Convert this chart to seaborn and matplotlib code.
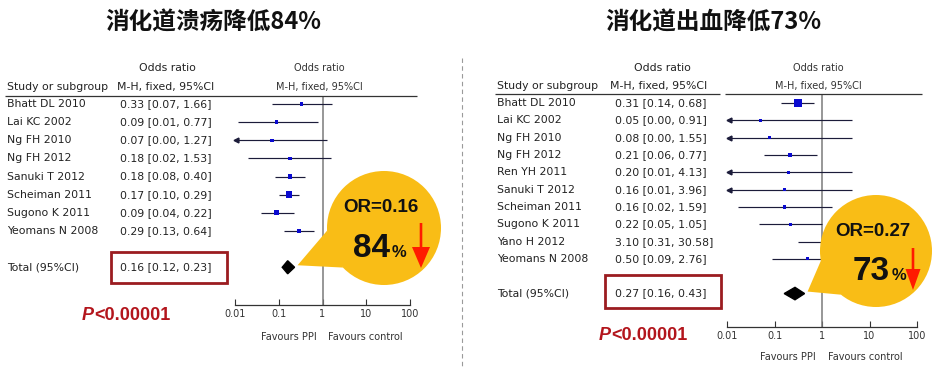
import numpy as np
import matplotlib
matplotlib.use("Agg")
import matplotlib.pyplot as plt
import matplotlib.transforms as mtrans
from matplotlib.patches import Circle, Polygon, Rectangle, FancyArrow
import seaborn as sns

# --- left panel: peptic ulcer ---
ulcer_studies = ["Bhatt DL 2010", "Lai KC 2002", "Ng FH 2010", "Ng FH 2012",
                 "Sanuki T 2012", "Scheiman 2011", "Sugono K 2011", "Yeomans N 2008"]
ulcer_or = [0.33, 0.09, 0.07, 0.18, 0.18, 0.17, 0.09, 0.29]
ulcer_lo = [0.07, 0.0115, 0.004, 0.02, 0.08, 0.10, 0.04, 0.13]
ulcer_hi = [1.66, 0.77, 1.27, 1.53, 0.40, 0.29, 0.22, 0.64]
ulcer_weight = [6.5, 5.5, 5.0, 6.0, 11.0, 33.0, 19.5, 13.5]
ulcer_total = [0.16, 0.12, 0.23]  # OR, lo, hi

# --- right panel: GI bleeding ---
bleed_studies = ["Bhatt DL 2010", "Lai KC 2002", "Ng FH 2010", "Ng FH 2012", "Ren YH 2011",
                 "Sanuki T 2012", "Scheiman 2011", "Sugono K 2011", "Yano H 2012", "Yeomans N 2008"]
bleed_or = [0.31, 0.05, 0.08, 0.21, 0.20, 0.16, 0.16, 0.22, 3.10, 0.50]
bleed_lo = [0.14, 0.00, 0.00, 0.06, 0.01, 0.01, 0.02, 0.05, 0.31, 0.09]
bleed_hi = [0.68, 0.91, 1.55, 0.77, 4.13, 3.96, 1.59, 1.05, 30.58, 2.76]
# whiskers as they are drawn in the figure (some differ from the table)
bleed_draw_lo = [0.14, 0.004, 0.004, 0.06, 0.005, 0.005, 0.017, 0.048, 0.32, 0.087]
bleed_draw_hi = [0.68, 4.2, 4.2, 0.80, 4.2, 4.2, 1.6, 1.0, 30.58, 2.76]
bleed_weight = [45.0, 5.5, 4.5, 13.0, 3.5, 4.0, 5.0, 4.5, 4.0, 4.5]
bleed_total = [0.27, 0.16, 0.43]

ticks = [0.01, 0.1, 1, 10, 100]
tick_labels = ["0.01", "0.1", "1", "10", "100"]

sns.set_style("white")
plt.rcParams["font.family"] = ["DejaVu Sans"]

W, H = 940, 369
fig = plt.figure(figsize=(9.4, 3.69), dpi=100)

def px_axes(x0, y0, x1, y1, **kw):
    return fig.add_axes([x0 / W, 1 - y1 / H, (x1 - x0) / W, (y1 - y0) / H], **kw)

ax_l = px_axes(235, 96, 410, 305, zorder=1)
ax_r = px_axes(727, 94, 917, 327, zorder=1)
ov = fig.add_axes([0, 0, 1, 1], zorder=5)
ov.set_xlim(0, W)
ov.set_ylim(H, 0)
ov.axis("off")

ci_col = "#1c1c3a"
sq_col = "#0a0ad0"
txt_col = "#222222"
box_col = "#9b1c20"
p_col = "#b3151c"
bubble = "#f9bd16"
small = 7  # narrow labels of the plot area


def forest(ax, ors, lo, hi, weight, total, ylim, fav_dy):
    rows = np.arange(len(ors))
    trow = len(ors) + 1
    for r, a, b in zip(rows, lo, hi):
        ax.hlines(r, max(a, 0.01), min(b, 100), color=ci_col, lw=0.85, zorder=2)
        if a < 0.01:
            ax.plot(0.0108, r, marker="<", ms=3.5, color=ci_col, clip_on=False, zorder=2)
    sns.scatterplot(x=ors, y=rows, size=weight, sizes=(4, 30), size_norm=(3, 45),
                    marker="s", color=sq_col, linewidth=0, legend=False, ax=ax, zorder=3)
    o, a, b = total
    ax.fill([a, o, b, o], [trow, trow - 0.36, trow, trow + 0.36], color="black", zorder=3)
    ax.axvline(1, color="#7a7a7a", lw=1.1, zorder=1)
    ax.set_xscale("log")
    ax.set_xlim(0.01, 100)
    ax.set_ylim(*ylim)
    ax.set_xticks(ticks, labels=tick_labels)
    ax.minorticks_off()
    ax.tick_params(axis="x", direction="in", length=4, width=0.8, pad=3,
                   labelsize=small, colors="#333333", bottom=True)
    ax.set_yticks([])
    ax.set_xlabel("")
    ax.set_ylabel("")
    for s in ["top", "left", "right"]:
        ax.spines[s].set_visible(False)
    ax.spines["bottom"].set_color("#333333")
    ax.spines["bottom"].set_linewidth(0.9)
    ax.patch.set_alpha(0)
    ax.annotate("Favours PPI", xy=(1, 0), xycoords=("data", "axes fraction"),
                xytext=(-6, -fav_dy), textcoords="offset pixels", ha="right", va="center",
                fontsize=small, color="#333333")
    ax.annotate("Favours control", xy=(1, 0), xycoords=("data", "axes fraction"),
                xytext=(6, -fav_dy), textcoords="offset pixels", ha="left", va="center",
                fontsize=small, color="#333333")


def table(ax, x_name, x_ci, studies, ors, lo, hi, total):
    tr = mtrans.blended_transform_factory(ov.transData, ax.transData)
    kw = dict(transform=tr, va="center", fontsize=7.8, color=txt_col)
    for i, (s, o, a, b) in enumerate(zip(studies, ors, lo, hi)):
        ov.text(x_name, i, s, **kw)
        ov.text(x_ci, i, f"{o:.2f} [{a:.2f}, {b:.2f}]", **kw)
    n = len(studies) + 1
    ov.text(x_name, n, "Total (95%CI)", **kw)
    ov.text(x_ci, n, f"{total[0]:.2f} [{total[1]:.2f}, {total[2]:.2f}]", **kw)


def callout(ax, total, trow, cx, cy, r, or_txt, num, num_x, base_y, arrow_x, arrow_y0, arrow_y1, head_w):
    tip = ov.transData.inverted().transform(ax.transData.transform((total[2], trow))) + np.array([3, -2])
    ang = np.arctan2(tip[1] - cy, tip[0] - cx)
    b1 = (cx + r * np.cos(ang - 0.36), cy + r * np.sin(ang - 0.36))
    b2 = (cx + r * np.cos(ang + 0.36), cy + r * np.sin(ang + 0.36))
    ov.add_patch(Polygon([b1, tip, b2], closed=True, color=bubble, lw=0, zorder=6))
    ov.add_patch(Circle((cx, cy), r, color=bubble, lw=0, zorder=6))
    ov.text(cx - 3, cy - 20, or_txt, ha="center", va="center", fontsize=13.5,
            fontweight="bold", family="Liberation Sans", color="#111111", zorder=8)
    ov.text(num_x, base_y, num, ha="right", va="baseline", fontsize=24,
            fontweight="bold", family="Liberation Sans", color="#111111", zorder=8)
    ov.text(num_x + 2, base_y, "%", ha="left", va="baseline", fontsize=12,
            fontweight="bold", family="Liberation Sans", color="#111111", zorder=8)
    ov.add_patch(FancyArrow(arrow_x, arrow_y0, 0, arrow_y1 - arrow_y0, width=2.6,
                            head_width=head_w, head_length=21, length_includes_head=True,
                            color="#ff1a00", lw=0, zorder=8))


forest(ax_l, ulcer_or, ulcer_lo, ulcer_hi, ulcer_weight, ulcer_total, (11.08, -0.44), 32)
forest(ax_r, bleed_or, bleed_draw_lo, bleed_draw_hi, bleed_weight, bleed_total, (12.93, -0.52), 30)

table(ax_l, 7, 120, ulcer_studies, ulcer_or, ulcer_lo, ulcer_hi, ulcer_total)
table(ax_r, 497, 615, bleed_studies, bleed_or, bleed_lo, bleed_hi, bleed_total)

# headers
hk = dict(fontsize=7.8, color=txt_col, va="center")
ck = dict(fontsize=small, color="#333333", va="center", ha="center")
ov.text(167, 68, "Odds ratio", ha="center", **hk)
ov.text(7, 87, "Study or subgroup", ha="left", **hk)
ov.text(117, 87, "M-H, fixed, 95%CI", ha="left", **hk)
ov.text(319, 68, "Odds ratio", **ck)
ov.text(319, 87, "M-H, fixed, 95%CI", **ck)
ov.hlines(96, 5, 417, color="#333333", lw=0.9)

ov.text(662, 68, "Odds ratio", ha="center", **hk)
ov.text(497, 86, "Study or subgroup", ha="left", **hk)
ov.text(610, 86, "M-H, fixed, 95%CI", ha="left", **hk)
ov.text(818, 68, "Odds ratio", **ck)
ov.text(818, 86, "M-H, fixed, 95%CI", **ck)
ov.hlines(94, 495, 720, color="#333333", lw=0.9)
ov.hlines(94, 725, 922, color="#333333", lw=0.9)

# titles
tk = dict(fontsize=17, fontweight="bold", ha="center", va="center", color="#111111",
          family=["Noto Sans CJK SC", "DejaVu Sans"])
ov.text(213, 23, "消化道溃疡降低84%", **tk)
ov.text(713, 23, "消化道出血降低73%", **tk)

# divider
ov.plot([462, 462], [58, 369], color="#9a9a9a", lw=0.8, ls=(0, (4, 3)))

# red boxes around totals
ov.add_patch(Rectangle((111, 252), 116, 31, fill=False, ec=box_col, lw=2.0, zorder=4))
ov.add_patch(Rectangle((605, 275), 116, 33, fill=False, ec=box_col, lw=2.0, zorder=4))

# P values
pk = dict(fontsize=13, fontweight="bold", family="Liberation Sans", color=p_col, va="baseline")
ov.text(94, 320, "P", ha="right", style="italic", **pk)
ov.text(94, 320, "<0.00001", ha="left", **pk)
ov.text(611, 340, "P", ha="right", style="italic", **pk)
ov.text(611, 340, "<0.00001", ha="left", **pk)

callout(ax_l, ulcer_total, len(ulcer_or) + 1, 384, 228, 57, "OR=0.16", "84", 390, 257, 421, 223, 268, 18)
callout(ax_r, bleed_total, len(bleed_or) + 1, 876, 251, 56, "OR=0.27", "73", 890, 280, 913, 248, 290, 15)

fig.savefig("out.png", dpi=100)
